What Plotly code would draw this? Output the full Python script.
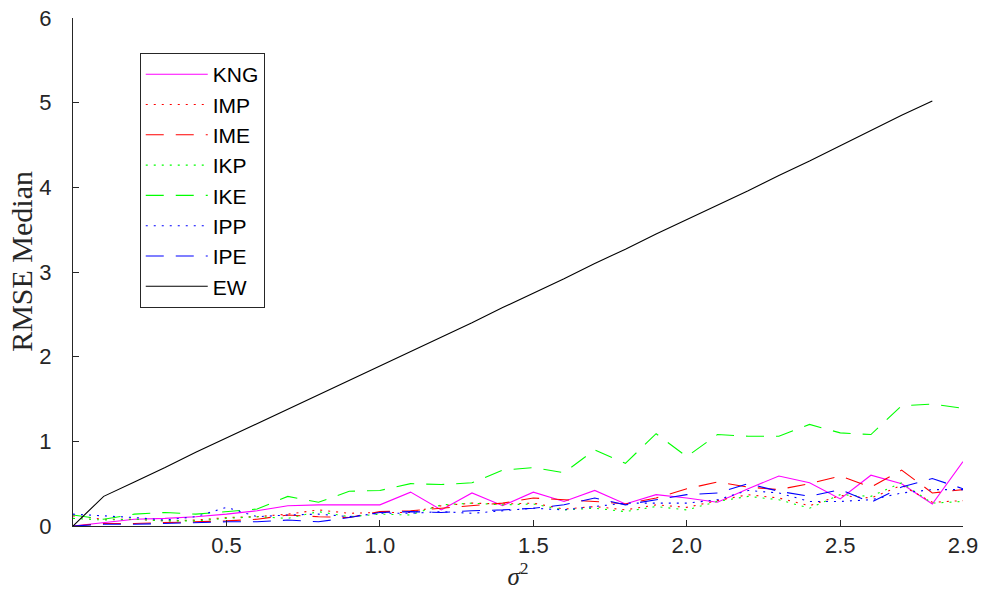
import plotly.graph_objects as go

sigma2 = [0.0, 0.1, 0.2, 0.3, 0.4, 0.5, 0.6, 0.7, 0.8, 0.9, 1.0, 1.1, 1.2, 1.3, 1.4,
          1.5, 1.6, 1.7, 1.8, 1.9, 2.0, 2.1, 2.2, 2.3, 2.4, 2.5, 2.6, 2.7, 2.8, 2.9]

KNG = [0, 0.04, 0.08, 0.09, 0.11, 0.14, 0.18, 0.24, 0.25, 0.25, 0.25, 0.40, 0.19, 0.39, 0.24,
       0.40, 0.29, 0.42, 0.26, 0.37, 0.33, 0.28, 0.44, 0.59, 0.51, 0.32, 0.60, 0.50, 0.26, 0.76]
IMP = [0.12, 0.08, 0.08, 0.06, 0.07, 0.10, 0.11, 0.14, 0.19, 0.15, 0.16, 0.16, 0.24, 0.27, 0.26,
       0.27, 0.20, 0.23, 0.19, 0.25, 0.22, 0.30, 0.37, 0.33, 0.24, 0.36, 0.33, 0.48, 0.28, 0.30]
IME = [0, 0.03, 0.03, 0.04, 0.05, 0.06, 0.08, 0.13, 0.11, 0.10, 0.17, 0.18, 0.21, 0.24, 0.27,
       0.33, 0.31, 0.29, 0.26, 0.33, 0.44, 0.52, 0.46, 0.43, 0.50, 0.59, 0.46, 0.66, 0.39, 0.43]
IKP = [0.09, 0.07, 0.08, 0.06, 0.06, 0.09, 0.11, 0.09, 0.17, 0.11, 0.14, 0.13, 0.25, 0.27, 0.25,
       0.26, 0.19, 0.21, 0.17, 0.23, 0.19, 0.29, 0.35, 0.31, 0.21, 0.37, 0.35, 0.51, 0.27, 0.29]
IKE = [0.13, 0.08, 0.14, 0.16, 0.14, 0.17, 0.20, 0.35, 0.28, 0.41, 0.42, 0.50, 0.49, 0.51, 0.66,
       0.69, 0.63, 0.90, 0.74, 1.09, 0.82, 1.08, 1.06, 1.06, 1.20, 1.10, 1.08, 1.42, 1.44, 1.39]
IPP = [0.14, 0.12, 0.10, 0.07, 0.11, 0.22, 0.11, 0.13, 0.14, 0.11, 0.15, 0.15, 0.17, 0.15, 0.18,
       0.21, 0.19, 0.23, 0.27, 0.27, 0.27, 0.31, 0.42, 0.39, 0.29, 0.29, 0.31, 0.39, 0.43, 0.43]
IPE = [0, 0.02, 0.02, 0.03, 0.04, 0.05, 0.05, 0.07, 0.05, 0.10, 0.16, 0.17, 0.16, 0.18, 0.19,
       0.21, 0.25, 0.33, 0.25, 0.31, 0.37, 0.39, 0.50, 0.41, 0.35, 0.43, 0.28, 0.46, 0.56, 0.44]
EW = [0, 0.35, 0.52, 0.69, 0.87, 1.04, 1.21, 1.38, 1.55, 1.72, 1.89, 2.06, 2.23, 2.40, 2.58,
      2.75, 2.92, 3.10, 3.27, 3.45, 3.62, 3.79, 3.96, 4.14, 4.31, 4.49, 4.67, 4.85, 5.02]

x_ticks = [0.5, 1.0, 1.5, 2.0, 2.5, 2.9]
x_tick_labels = ["0.5", "1.0", "1.5", "2.0", "2.5", "2.9"]
y_ticks = [0, 1, 2, 3, 4, 5, 6]

DASH = "18px,12px"
DOT = "2px,6px"

series = [
    ("KNG", KNG, "#ff00ff", "solid"),
    ("IMP", IMP, "#ff0000", DOT),
    ("IME", IME, "#ff0000", DASH),
    ("IKP", IKP, "#00ff00", DOT),
    ("IKE", IKE, "#00ff00", DASH),
    ("IPP", IPP, "#0000ff", DOT),
    ("IPE", IPE, "#0000ff", DASH),
    ("EW", EW, "#000000", "solid"),
]

fig = go.Figure()
for name, vals, color, dash in series:
    fig.add_trace(go.Scatter(
        x=sigma2[:len(vals)], y=vals, name=name, mode="lines",
        line=dict(color=color, width=1.1, dash=dash),
    ))

axis_color = "#262626"
fig.update_layout(
    width=982, height=601,
    margin=dict(l=73, r=19, t=18, b=75, autoexpand=False),
    paper_bgcolor="white", plot_bgcolor="white",
    font=dict(family="Liberation Sans, Arial, sans-serif", color=axis_color, size=22),
    showlegend=True,
    legend=dict(
        x=0.075, y=0.931, xanchor="left", yanchor="top",
        bgcolor="white", bordercolor=axis_color, borderwidth=1,
        font=dict(family="Liberation Sans, Arial, sans-serif", size=21, color="black"),
        itemwidth=62, tracegroupgap=0,
    ),
    xaxis=dict(
        range=[0, 2.9], tickmode="array", tickvals=x_ticks, ticktext=x_tick_labels,
        ticks="inside", ticklen=6, tickcolor=axis_color, showline=True, linecolor=axis_color,
        linewidth=1, showgrid=False, zeroline=False, tickfont=dict(size=22), automargin=False,
        title=dict(text="<i>σ</i><sup>2</sup>", font=dict(family="Liberation Serif, Times New Roman, serif", size=25, color=axis_color), standoff=6),
    ),
    yaxis=dict(
        range=[0, 6], tickmode="array", tickvals=y_ticks,
        ticks="inside", ticklen=6, tickcolor=axis_color, showline=True, linecolor=axis_color,
        linewidth=1, showgrid=False, zeroline=False, tickfont=dict(size=22), automargin=False,
        ticklabelstandoff=16,
    ),
    annotations=[dict(
        text="RMSE Median", textangle=-90, showarrow=False,
        xref="paper", yref="paper", x=-0.0573, y=0.52, xanchor="center", yanchor="middle",
        font=dict(family="Liberation Serif, Times New Roman, serif", size=30, color=axis_color),
    )],
)

fig.write_html("out.html")
